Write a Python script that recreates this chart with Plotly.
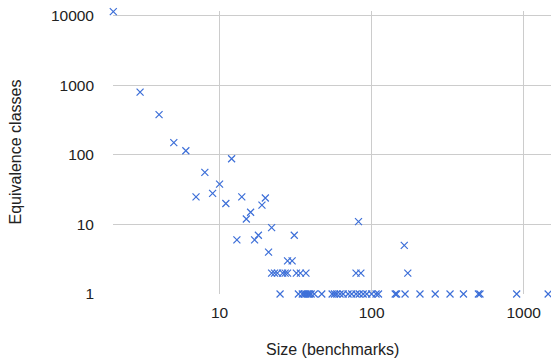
import math
import plotly.graph_objects as go

# Data (size in benchmarks, number of equivalence classes)
sizes = [2, 3, 4, 5, 6, 7, 8, 9, 10, 11, 12, 13, 14, 15, 16, 17, 18, 19, 20,
         21, 22, 28, 30, 31,
         22, 23, 24, 26, 27, 28, 32, 34, 37, 79, 85, 173,
         82, 164,
         25, 33, 35, 36, 37, 38, 39, 40, 42, 47, 55, 57, 59, 62, 65, 70, 74,
         79, 83, 88, 93, 100, 107, 111, 143, 146, 166, 208, 262, 328, 402,
         504, 516, 900, 1450]
classes = [11500, 800, 380, 150, 115, 25, 56, 28, 38, 20, 88, 6, 25, 12, 15, 6, 7, 19, 24,
           4, 9, 3, 3, 7,
           2, 2, 2, 2, 2, 2, 2, 2, 2, 2, 2, 2,
           11, 5,
           1, 1, 1, 1, 1, 1, 1, 1, 1, 1, 1, 1, 1, 1, 1, 1, 1,
           1, 1, 1, 1, 1, 1, 1, 1, 1, 1, 1, 1, 1, 1,
           1, 1, 1, 1]

x_ticks = [10, 100, 1000]
y_ticks = [1, 10, 100, 1000, 10000]

fig = go.Figure(go.Scatter(
    x=sizes, y=classes, mode="markers",
    marker=dict(symbol="x-thin-open", size=7, color="#3d6fd8",
                line=dict(width=1.2, color="#3d6fd8")),
    cliponaxis=False, showlegend=False,
))

font = "Liberation Sans, Arial, sans-serif"
fig.update_layout(
    width=551, height=358,
    margin=dict(l=113, r=0, t=11, b=64, autoexpand=False),
    paper_bgcolor="white", plot_bgcolor="white",
    font=dict(family=font, size=16, color="#222222"),
    xaxis=dict(type="log", range=[math.log10(2) - 0.002, 3.18],
               tickvals=x_ticks, ticktext=[str(v) for v in x_ticks],
               showgrid=True, gridcolor="#cccccc", gridwidth=1,
               zeroline=False, showline=False, ticks="",
               ticklabelstandoff=7, automargin=False,
               tickfont=dict(size=15.5)),
    yaxis=dict(type="log", range=[0, 4.07],
               tickvals=y_ticks, ticktext=[str(v) for v in y_ticks],
               showgrid=True, gridcolor="#cccccc", gridwidth=1,
               zeroline=False, showline=False, ticks="",
               ticklabelstandoff=18, automargin=False,
               tickfont=dict(size=15.5)),
    annotations=[
        dict(text="Size (benchmarks)", xref="paper", yref="paper",
             x=0.5, y=0, xanchor="center", yanchor="middle",
             yshift=-55.5, showarrow=False, font=dict(size=16, color="#222222")),
        dict(text="Equivalence classes", xref="paper", yref="paper",
             x=0, y=0.5, xanchor="center", yanchor="middle", textangle=-90,
             xshift=-98, showarrow=False, font=dict(size=16, color="#222222")),
    ],
)

fig.write_html("out.html", config={"displayModeBar": False},
               post_script="document.body.style.margin='0';")
